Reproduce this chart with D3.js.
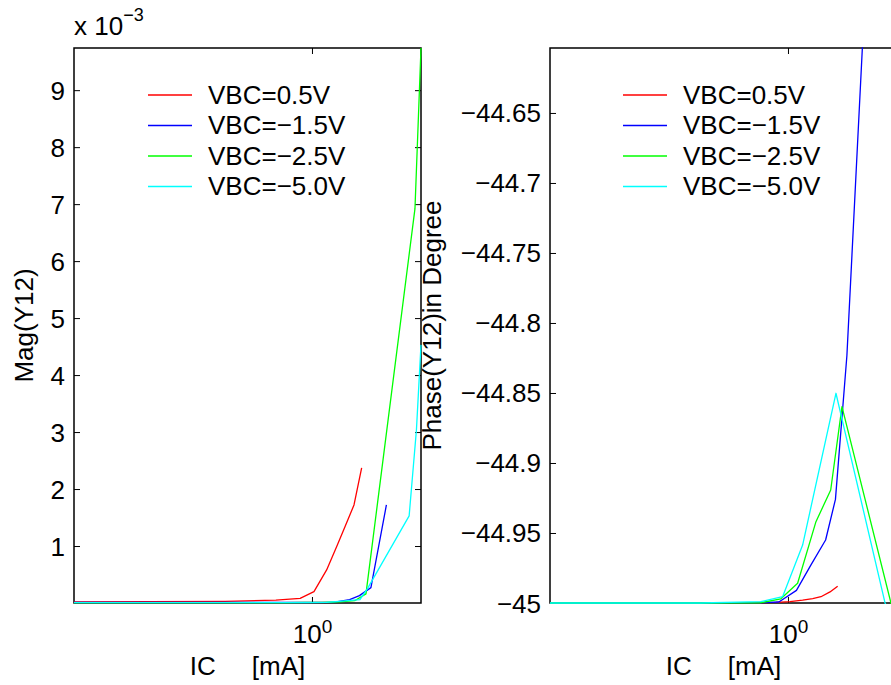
<!DOCTYPE html>
<html>
<head>
<meta charset="utf-8">
<script src="https://cdn.jsdelivr.net/npm/d3@7"></script>
<style>
  html, body { margin: 0; padding: 0; background: #ffffff; }
  svg { display: block; }
  text { font-family: "Liberation Sans", Arial, Helvetica, sans-serif; fill: #000; }
</style>
</head>
<body>
<svg id="chart" width="891" height="685"></svg>
<script>
// ---------------- data ----------------
const seriesNames  = ["VBC=0.5V", "VBC=\u22121.5V", "VBC=\u22122.5V", "VBC=\u22125.0V"];
const seriesColors = ["#ff0000", "#0000ff", "#00ff00", "#00ffff"];

// IC [mA] sample points per series
const icRed   = [0.15, 0.5, 0.75, 0.91, 1.016, 1.124, 1.218, 1.301, 1.398, 1.486];
const icBlue  = [0.15, 0.5, 0.8, 0.93, 1.07, 1.2, 1.35, 1.46, 1.60, 1.81];
const icGreen = [0.15, 0.5, 0.8, 0.945, 1.08, 1.25, 1.406, 1.538, 2.273, 2.385];
const icCyan  = [0.15, 0.5, 0.806, 0.958, 1.124, 1.466, 1.56, 2.17, 2.30, 2.385];

// Mag(Y12) in units of 1e-3
const magRed   = [0.02, 0.03, 0.05, 0.08, 0.20, 0.58, 0.99, 1.34, 1.72, 2.37];
const magBlue  = [0.01, 0.01, 0.01, 0.01, 0.01, 0.015, 0.06, 0.13, 0.27, 1.72];
const magGreen = [0.005, 0.005, 0.005, 0.01, 0.01, 0.02, 0.04, 0.16, 6.92, 9.74];
const magCyan  = [0.005, 0.005, 0.005, 0.005, 0.01, 0.06, 0.26, 1.53, 3.04, 4.53];

// Phase(Y12) in degree
const phaseRed   = [-45.0, -45.0, -44.9998, -44.9995, -44.999, -44.998, -44.9968, -44.9955, -44.9921, -44.988];
const phaseBlue  = [-45.0, -45.0, -44.9998, -44.9993, -44.991, -44.973, -44.955, -44.926, -44.823, -44.603];
const phaseGreen = [-45.0, -45.0, -44.9999, -44.997, -44.9859, -44.9419, -44.9193, -44.8598, -45.0, -45.02];
const phaseCyan  = [-45.0, -45.0, -44.999, -44.9955, -44.9586, -44.8502, -44.874, -45.0002, -45.01, -45.02];

// axis settings
const xDomain = [0.15, 2.385];
const xTicks = [1];
const magDomain = [0, 9.74];
const magTicks = [1, 2, 3, 4, 5, 6, 7, 8, 9];
const phaseDomain = [-45, -44.6036];
const phaseTicks = [-45, -44.95, -44.9, -44.85, -44.8, -44.75, -44.7, -44.65];
const phaseTickLabels = ["\u221245", "\u221244.95", "\u221244.9", "\u221244.85", "\u221244.8", "\u221244.75", "\u221244.7", "\u221244.65"];

const icAll = [icRed, icBlue, icGreen, icCyan];
const magAll = [magRed, magBlue, magGreen, magCyan];
const phaseAll = [phaseRed, phaseBlue, phaseGreen, phaseCyan];

// ---------------- drawing ----------------
const svg = d3.select("#chart");
const FS = 26;

const plotTop = 48, plotBottom = 603;
const panels = [
  { left: 74, right: 421, yDomain: magDomain, yTicks: magTicks, yFmt: d => String(d), values: magAll,
    ylabel: "Mag(Y12)", ylabelX: 33, legendX: 148 },
  { left: 550, right: 897, yDomain: phaseDomain, yTicks: phaseTicks, yFmt: (d, i) => phaseTickLabels[i], values: phaseAll,
    ylabel: "Phase(Y12)in Degree", ylabelX: 441, legendX: 623 }
];

panels.forEach((p, pi) => {
  const x = d3.scaleLog().domain(xDomain).range([p.left, p.right]);
  const y = d3.scaleLinear().domain(p.yDomain).range([plotBottom, plotTop]);
  const g = svg.append("g");

  // box
  g.append("rect").attr("x", p.left).attr("y", plotTop)
    .attr("width", p.right - p.left).attr("height", plotBottom - plotTop)
    .attr("fill", "none").attr("stroke", "#000").attr("stroke-width", 1.5);

  // left axis (inward ticks)
  const ax = g.append("g").attr("transform", `translate(${p.left},0)`)
    .call(d3.axisLeft(y).tickValues(p.yTicks).tickSizeInner(-6).tickSizeOuter(0).tickPadding(9).tickFormat(p.yFmt));
  ax.select(".domain").remove();
  ax.selectAll("line").attr("stroke", "#000").attr("stroke-width", 1);
  ax.selectAll("text").attr("font-size", FS).attr("font-family", null).attr("dy", null).attr("y", 9);

  // right axis mirror ticks
  const axr = g.append("g").attr("transform", `translate(${p.right},0)`)
    .call(d3.axisRight(y).tickValues(p.yTicks).tickSizeInner(-6).tickSizeOuter(0).tickFormat(""));
  axr.select(".domain").remove();
  axr.selectAll("line").attr("stroke", "#000").attr("stroke-width", 1);

  // bottom axis
  const bx = g.append("g").attr("transform", `translate(0,${plotBottom})`)
    .call(d3.axisBottom(x).tickValues(xTicks).tickSizeInner(-6).tickSizeOuter(0).tickFormat(""));
  bx.select(".domain").remove();
  bx.selectAll("line").attr("stroke", "#000").attr("stroke-width", 1);
  bx.selectAll(".tick text").each(function(d) {
    const t = d3.select(this);
    t.attr("font-size", FS).attr("font-family", null).attr("dy", null).attr("y", 40).attr("text-anchor", "middle");
    t.append("tspan").text("10");
    t.append("tspan").attr("font-size", 19).attr("dy", -10).text(String(Math.round(Math.log10(d))));
  });

  // top axis mirror ticks
  const tx = g.append("g").attr("transform", `translate(0,${plotTop})`)
    .call(d3.axisTop(x).tickValues(xTicks).tickSizeInner(-6).tickSizeOuter(0).tickFormat(""));
  tx.select(".domain").remove();
  tx.selectAll("line").attr("stroke", "#000").attr("stroke-width", 1);

  // clip
  const clipId = "clip" + pi;
  svg.append("clipPath").attr("id", clipId).append("rect")
    .attr("x", p.left - 1).attr("y", plotTop - 1)
    .attr("width", p.right - p.left + 2).attr("height", plotBottom - plotTop + 2);

  const line = d3.line().x(d => x(d[0])).y(d => y(d[1]));
  const lg = g.append("g").attr("clip-path", `url(#${clipId})`);
  p.values.forEach((vals, si) => {
    const pts = icAll[si].map((ic, k) => [ic, vals[k]]);
    lg.append("path").attr("d", line(pts)).attr("fill", "none")
      .attr("stroke", seriesColors[si]).attr("stroke-width", 1.3)
      .attr("stroke-linejoin", "round");
  });

  // legend
  seriesNames.forEach((name, si) => {
    const ly = 95 + si * 30.5;
    g.append("line").attr("x1", p.legendX).attr("x2", p.legendX + 44)
      .attr("y1", ly).attr("y2", ly).attr("stroke", seriesColors[si]).attr("stroke-width", 1.3);
    g.append("text").attr("x", p.legendX + 60).attr("y", ly + 8.5)
      .attr("font-size", FS).text(name);
  });

  // axis labels
  const cx = (p.left + p.right) / 2;
  g.append("text").attr("x", cx).attr("y", 675).attr("text-anchor", "middle")
    .attr("font-size", FS).attr("xml:space", "preserve").style("white-space", "pre")
    .text("IC     [mA]");
  g.append("text").attr("transform", `translate(${p.ylabelX},${(plotTop + plotBottom) / 2}) rotate(-90)`)
    .attr("text-anchor", "middle").attr("font-size", FS).text(p.ylabel);
});

// exponent label of left panel
const ex = svg.append("text").attr("x", 74).attr("y", 35).attr("font-size", FS);
ex.append("tspan").text("x 10");
ex.append("tspan").attr("font-size", 18).attr("dy", -14).text("\u22123");
</script>
</body>
</html>
